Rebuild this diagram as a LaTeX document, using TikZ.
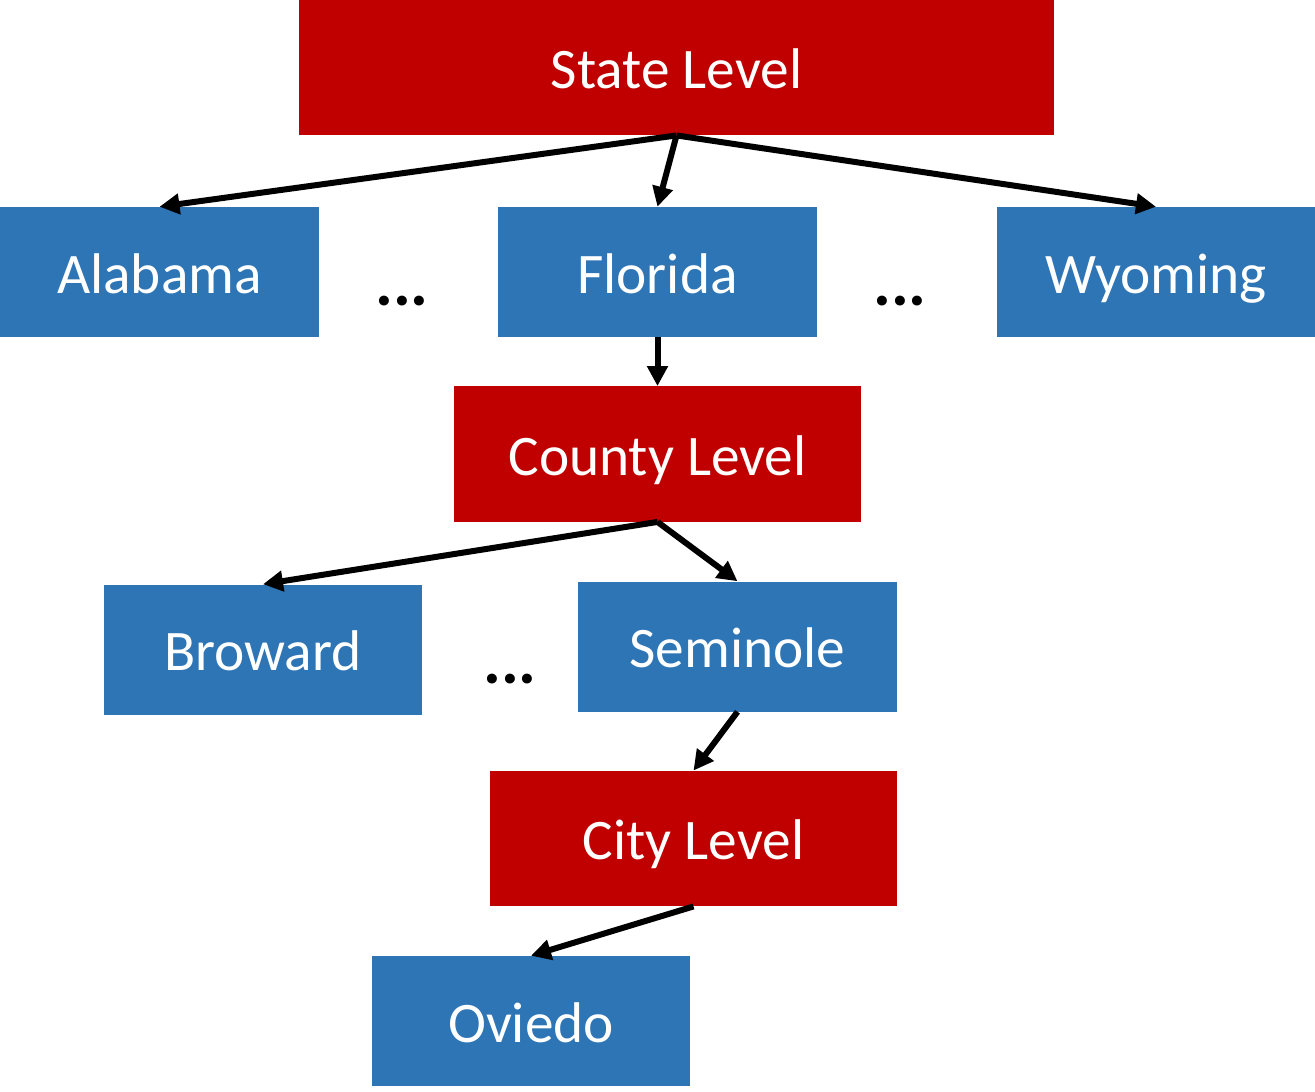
\documentclass[tikz,border=0pt]{standalone}
\usepackage{fontspec}
\setmainfont{Carlito}
\usetikzlibrary{arrows.meta}
\definecolor{levelred}{HTML}{C00000}
\definecolor{placeblue}{HTML}{2E75B6}
\tikzset{
  level/.style={fill=levelred,text=white,minimum width=305pt,minimum height=101.5pt,inner sep=0pt,text height=31.5pt,text depth=0pt},
  place/.style={fill=placeblue,text=white,minimum width=239pt,minimum height=97.5pt,inner sep=0pt,text height=31.5pt,text depth=0pt},
  dots/.style={font=\fontsize{50}{60}\selectfont\bfseries,inner sep=0pt},
  link/.style={-{Triangle[length=15pt,width=15pt]},line width=4.5pt}
}
\begin{document}
\begin{tikzpicture}[x=0.75pt,y=-0.75pt,font=\fontsize{43}{52}\selectfont]
        \useasboundingbox (0,0) rectangle (1315,1092);
        \node[level,minimum width=566pt] (state) at (676.5,67.5) {State Level};
        \node[place] (alabama) at (159.5,272) {Alabama};
        \node[place] (florida) at (657.5,272) {Florida};
        \node[place] (wyoming) at (1156,272) {Wyoming};
        \node[dots] (dotsa) at (402,301) {...};
        \node[dots] (dotsb) at (900,301) {...};
        \node[dots] (dotsc) at (510,679) {...};
        \node[level] (county) at (657.5,454) {County Level};
        \node[place] (broward) at (263,649.5) {Broward};
        \node[place] (seminole) at (737.5,646.5) {Seminole};
        \node[level] (city) at (693.5,838.5) {City Level};
        \node[place] (oviedo) at (531,1021) {Oviedo};
        % connectors
        \foreach \t in {alabama,florida,wyoming}
            \draw[link] (state.south) -- (\t.north);
        \draw[link] (florida.south) -- (county.north);
        \foreach \t in {broward,seminole}
            \draw[link] (county.south) -- (\t.north);
        \draw[link] (seminole.south) -- (city.north);
        \draw[link] (city.south) -- (oviedo.north);
    \end{tikzpicture}
\end{document}
